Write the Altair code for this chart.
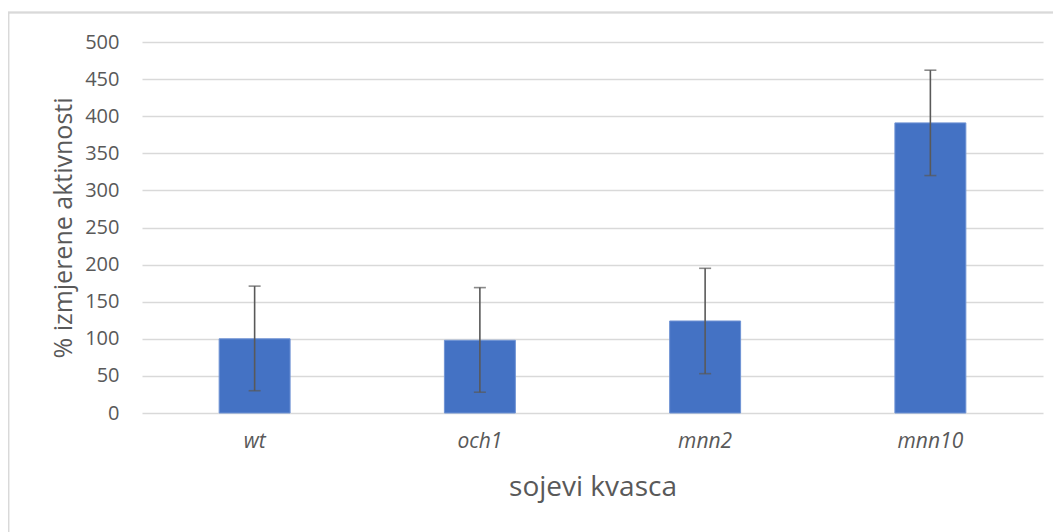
import altair as alt
import pandas as pd

strains = ["wt", "och1", "mnn2", "mnn10"]
activity = [100, 98, 124, 391]
err_low = [30, 28, 53, 320]
err_high = [171, 169, 195, 462]
y_ticks = [0, 50, 100, 150, 200, 250, 300, 350, 400, 450, 500]

df = pd.DataFrame({"soj": strains, "val": activity, "lo": err_low, "hi": err_high})

FONT = "Open Sans"
GREY = "#595959"

x_axis = alt.Axis(title="sojevi kvasca", labelAngle=0, labelFontStyle="italic")
x_scale = alt.Scale(paddingInner=0.685, paddingOuter=0.3425)
y_axis = alt.Axis(values=y_ticks, title="% izmjerene aktivnosti")
y_scale = alt.Scale(domain=[0, 500], nice=False)

def xe():
    return alt.X("soj:N", sort=strains, scale=x_scale, axis=x_axis)

def ye(field):
    return alt.Y(field, type="quantitative", scale=y_scale, axis=y_axis)

bars = alt.Chart(df).mark_bar(color="#4472C4", stroke="#6f93d4", strokeWidth=1).encode(
    x=xe(), y=ye("val"))

rules = alt.Chart(df).mark_rule(color=GREY, strokeWidth=1.6).encode(
    x=xe(), y=ye("lo"), y2="hi:Q")
cap_lo = alt.Chart(df).mark_tick(color=GREY, thickness=1.6, size=12, orient="horizontal").encode(
    x=xe(), y=ye("lo"))
cap_hi = alt.Chart(df).mark_tick(color=GREY, thickness=1.6, size=12, orient="horizontal").encode(
    x=xe(), y=ye("hi"))

frame = alt.Chart(df).mark_rect(fill=None, stroke="#d9d9d9", strokeWidth=1.3).encode(
    x=alt.value(-133.5), x2=alt.value(930), y=alt.value(-29.5), y2=alt.value(520))

chart = alt.layer(frame, bars, rules, cap_lo, cap_hi).properties(
    width=901, height=371,
    background="white",
    autosize=alt.AutoSizeParams(type="none"),
    padding={"left": 134, "top": 34, "right": 10, "bottom": 119},
).configure_view(stroke=None).configure_axis(
    labelFont=FONT, titleFont=FONT, labelColor=GREY, titleColor=GREY,
    titleFontWeight="normal", ticks=False, domain=False,
).configure_axisY(
    labelFontSize=20, labelPadding=23, gridColor="#d9d9d9", gridWidth=1.3,
    titleFontSize=25, titlePadding=8,
).configure_axisX(
    labelFontSize=21, labelPadding=17, grid=False, titleFontSize=28, titlePadding=22,
)

chart.save("out.html", embed_options={"renderer": "svg", "actions": False})
